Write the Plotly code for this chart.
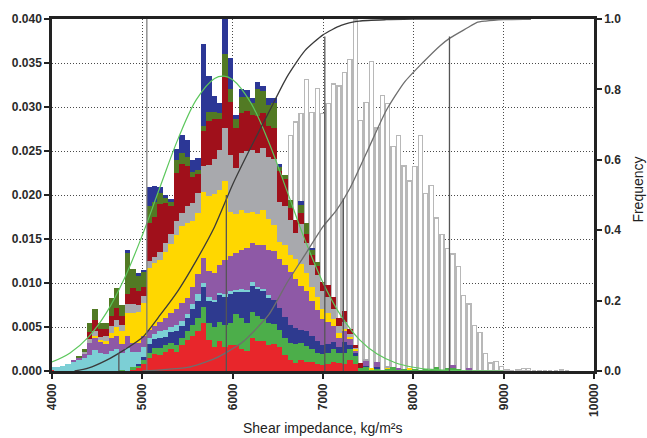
import numpy as np
import plotly.graph_objects as go

# ---------------- data ----------------
BIN_START = 3967      # left edge of first bin, kg/m2s
BIN_WIDTH = 60        # bin width, kg/m2s

# stacked relative frequencies per bin (units of 0.001), bottom layer first
red = [0.1,0,0,0,0,0,0,0,0,0, 0,0,0,0,0,0.2,0.3,0.8,1.5,1.9,
       1.8,2.2,2.5,2.2,3.0,3.5,4.0,4.5,5.5,3.5, 2.7,3.4,2.7,3.0,3.0,2.5,2.3,3.7,3.4,3.4,
       2.9,3.1,2.7,1.8,1.2,0.9,1.2,1.0,1.0,0.8, 0.7,0.8,1.0,0.9,0.8,1.3,0.8,0,0,0,
       0,0,0,0,0,0,0,0,0,0, 0,0,0,0,0,0,0,0,0]
green = [0,0,0,0,0,0,0,0,0,0, 0,0,0,0.1,0,0.2,0.3,0.4,0.6,0.7,
         0.8,0.7,0.7,0.8,0.8,1.0,1.2,1.5,1.8,2.0, 2.3,2.2,2.5,2.5,3.5,3.5,3.2,3.0,2.8,2.5,
         2.5,2.2,2.0,2.0,2.0,2.2,2.0,1.8,1.5,1.3, 1.2,1.3,1.5,1.2,1.2,1.2,0.9,0.3,0.5,0.2,
         0.2,0.1,0.3,0.4,0.2,0.2,0.2,0.2,0.1,0.2, 0.1,0.5,0.1,0.3,0.3,0.2,0,0,0]
blue = [0,0,0,0,0,0,0,0,0,0, 0,0,0,0,0,0,0.2,0.4,1.0,1.0,
        1.2,1.0,1.2,1.5,1.3,1.5,1.8,2.0,2.2,2.5, 2.8,3.0,3.2,3.3,2.5,3.0,3.5,3.0,3.2,3.3,
        3.0,2.8,2.5,2.3,2.0,1.8,1.5,1.8,1.5,1.3, 1.0,1.0,0.8,0.6,1.3,0.5,0.3,0,0.1,0,
        0.3,0,0,0,0,0,0,0,0,0, 0,0,0,0,0,0,0,0,0]
cyan = [0.4,0.5,0.6,0.8,1.1,1.3,1.5,1.8,2.4,2.1, 1.9,2.3,2.5,2.0,2.6,1.8,1.4,1.1,0.7,0.6,
        0.7,0.8,0.6,0.7,0.6,0.5,0.6,0.7,0.5,0.4, 0.3,0.3,0.3,0.3,0.2,0.3,0.2,0.4,0.1,0.1,
        0.2,0,0,0,0,0,0,0,0,0, 0,0,0,0,0,0,0,0,0,0,
        0,0,0,0,0,0,0,0,0,0, 0,0,0,0,0,0,0,0,0]
purple = [0,0,0,0,0.1,0.2,0.5,1.4,1.4,1.2, 1.2,1.4,1.5,1.0,1.4,1.0,1.0,1.3,0.9,0.9,
          1.1,1.3,1.6,1.8,2.0,1.8,2.0,2.3,2.8,3.0, 3.0,3.2,3.9,4.0,4.2,4.5,4.8,4.5,4.8,5.0,
          5.2,5.5,5.5,6.0,6.0,5.5,5.0,4.5,4.0,3.5, 3.0,2.5,1.8,1.0,1.2,0.6,0.3,0,0.6,0,
          0.5,0,0,0,0.1,0,0,0,0,0, 0,0,0,0,0.4,0,0,0.3,0]
yellow = [0,0,0,0,0,0,0,0,0.2,0.2, 0.3,0.6,1.0,1.4,2.6,3.4,3.5,3.7,7.0,7.2,
          7.0,7.5,7.8,8.5,8.8,8.5,7.5,7.0,7.5,8.5, 9.0,8.5,9.0,5.0,4.4,4.5,4.0,3.5,3.5,4.0,
          3.5,3.0,2.0,2.2,2.0,2.3,2.5,2.0,1.5,1.5, 1.2,1.0,0.8,0.6,0.3,0.3,0.2,0,0,0.1,
          0,0,0.1,0,0,0,0.1,0,0,0, 0,0,0,0,0,0,0,0,0]
grey = [0,0,0,0,0,0,0.2,0.4,0.5,0.4, 0.6,0.8,0.8,0.7,1.0,1.0,0.8,0.8,0.8,0.7,
        0.9,1.0,1.2,1.5,1.5,2.0,2.0,2.2,3.0,3.5, 4.0,4.5,6.0,6.5,5.3,6.5,7.0,7.0,7.0,7.0,
        7.0,7.5,4.5,4.5,4.0,3.0,4.5,3.5,2.5,2.5, 2.0,1.8,1.2,0.8,0.8,0.3,0.2,0,0.2,0,
        0,0,0.2,0,0,0,0,0,0,0, 0,0,0,0,0,0,0,0,0]
darkred = [0,0,0,0,0,0,0,0.8,1.3,0.9, 0.8,1.2,1.4,1.0,1.2,1.8,1.6,1.1,4.3,4.5,
           5.5,4.6,3.2,5.5,5.5,4.5,3.0,2.2,4.0,5.0, 4.5,3.5,5.8,6.0,4.5,4.5,4.5,4.0,4.2,4.0,
           3.5,3.5,3.5,3.0,1.3,1.5,1.2,1.0,1.2,1.0, 1.0,1.4,1.3,0.9,1.2,0.6,0.2,0.6,0,0,
           0,0,0,0,0,0,0,0,0,0, 0,0,0,0,0,0,0,0,0]
olive = [0,0,0,0,0,0.1,0.3,1.1,1.2,0.7, 0.7,2.0,2.2,1.3,4.6,2.2,1.8,1.6,2.0,1.7,
         1.2,0.6,0.4,1.5,1.3,1.0,0.5,0.4,0.5,1.0, 0.8,0.7,2.6,1.5,1.0,1.8,1.6,1.4,3.0,2.5,
         2.4,2.8,0.5,0.5,0.9,0,1.0,1.2,0.6,0.5, 0,0,0,0,0,0,0,0,0,0,
         0,0,0,0,0,0,0,0,0,0, 0,0,0,0,0,0,0,0,0]
navy = [0,0,0,0,0,0,0,0,0,0, 0,0,0,0,0.3,0,0.2,0.3,2.1,1.8,
        0.7,0.3,0.3,1.2,2.0,2.0,1.4,1.4,9.4,4.1, 1.9,1.2,4.7,3.5,0.5,1.0,0.8,0.5,0.8,0.6,
        0.8,0.6,0.3,0,0,0,0.4,0,0.2,0, 0,0,0,0,0,0,0,0,0,0,
        0,0,0,0,0,0,0,0,0,0, 0,0,0,0,0,0,0,0,0]

# hollow (outlined) histogram, units of 0.001, same bins
hollow = [0,0,0,0,0,0,0,0,0,0, 0,0,0,0.3,0.3,0.5,0.8,1.2,1.5,2.0,
          2.5,3.0,3.0,3.5,4.0,4.5,5.0,5.5,6.0,7.0, 8.0,9.0,11.0,12.0,12.0,13.0,14.0,14.5,14.0,15.5,
          15.0,17.0,18.5,21.0,26.8,28.3,29.3,33.1,29.4,32.1, 29.3,30.4,32.6,32.4,33.9,35.4,39.9,28.5,30.5,35.2,
          27.6,31.3,30.4,25.5,26.8,23.3,21.6,23.2,26.8,20.2, 21.1,17.4,15.5,13.9,13.3,11.9,8.6,7.6,5.2,4.4,
          2.0,0.9,1.1,0.5,0.1,0,0.2,0.3,0.3,0, 0,0,0,0,0.1,0]

# fitted normal curve (left axis)
normal_x = [4000,4200,4400,4600,4800,5000,5200,5400,5600,5800,5900,6000,6200,6400,6600,
            6800,7000,7200,7400,7600,7800,8000,8200,8400,8700,9000]
normal_y = [0.00102,0.00205,0.00382,0.00658,0.01048,0.01543,0.02103,0.02649,0.03086,0.03323,
            0.0335,0.0331,0.0305,0.0260,0.0205,0.0149,0.01004,0.00626,0.0036,0.00192,
            0.00094,0.00043,0.00018,0.00007,0.00001,0.0]

# cumulative curves (right axis)
cdf1_x = [4250,4400,4600,4800,5000,5200,5400,5600,5800,6000,6200,6400,6600,6800,7000,
          7200,7400,7700,8000,8200,9300]
cdf1_y = [0.0,0.008,0.03,0.06,0.095,0.16,0.23,0.315,0.41,0.53,0.635,0.735,0.835,0.91,0.955,
          0.982,0.994,0.998,0.9995,1.0,1.0]
cdf2_x = [5000,5200,5500,5800,6100,6400,6600,6800,7000,7150,7300,7500,7700,7900,8100,
          8300,8400,8600,8700,8800,9000,9300]
cdf2_y = [0.0,0.003,0.01,0.035,0.08,0.16,0.25,0.33,0.41,0.457,0.52,0.63,0.74,0.82,0.875,
          0.925,0.945,0.975,0.99,0.994,0.998,1.0]

# percentile markers (value, cumulative level)
pct_x = [4740, 5930, 7020, 7225, 8400]
pct_level = [0.05, 0.50, 0.95, 0.49, 0.95]
ref_x = 5050

x_ticks = [4000,5000,6000,7000,8000,9000,10000]
y_ticks = [0.000,0.005,0.010,0.015,0.020,0.025,0.030,0.035,0.040]
y3_ticks = [0.0,0.2,0.4,0.6,0.8,1.0]

layers = [("red", "#E8262B", red), ("green", "#4CAE4A", green), ("blue", "#2E3A8F", blue),
          ("cyan", "#7CCFD5", cyan), ("purple", "#8E59A6", purple), ("yellow", "#FFD700", yellow),
          ("grey", "#A8A9AD", grey), ("darkred", "#A0101B", darkred), ("olive", "#527A24", olive),
          ("navy", "#2C3796", navy)]

# ---------------- figure ----------------
centers = BIN_START + BIN_WIDTH / 2 + BIN_WIDTH * np.arange(len(red))
centers_h = BIN_START + BIN_WIDTH / 2 + BIN_WIDTH * np.arange(len(hollow))

fig = go.Figure()
fig.add_trace(go.Bar(x=centers_h, y=np.array(hollow) * 1e-3, width=BIN_WIDTH * 0.76,
                     marker=dict(color="white", line=dict(color="#B8B8B8", width=1.3)),
                     xaxis="x", yaxis="y", showlegend=False, hoverinfo="skip"))
for name, color, vals in layers:
    fig.add_trace(go.Bar(x=centers, y=np.array(vals) * 1e-3, width=BIN_WIDTH, name=name,
                         marker=dict(color=color, line=dict(width=0)),
                         xaxis="x", yaxis="y2", showlegend=False))
fig.add_trace(go.Scatter(x=normal_x, y=normal_y, mode="lines", line=dict(color="#5CC75C", width=1.2, shape="spline"),
                         xaxis="x", yaxis="y2", showlegend=False))
fig.add_trace(go.Scatter(x=cdf1_x, y=cdf1_y, mode="lines", line=dict(color="#3A3A3A", width=1.3, shape="spline", smoothing=0.6),
                         xaxis="x", yaxis="y3", showlegend=False))
fig.add_trace(go.Scatter(x=cdf2_x, y=cdf2_y, mode="lines", line=dict(color="#6E6E6E", width=1.3, shape="spline", smoothing=0.6),
                         xaxis="x", yaxis="y3", showlegend=False))
for px, lv in zip(pct_x, pct_level):
    fig.add_trace(go.Scatter(x=[px, px], y=[0, lv], mode="lines", line=dict(color="#555555", width=1.3),
                             xaxis="x", yaxis="y3", showlegend=False))
fig.add_trace(go.Scatter(x=[ref_x, ref_x], y=[0, 1], mode="lines", line=dict(color="#777777", width=1.2),
                         xaxis="x", yaxis="y3", showlegend=False))

axis_col = "#222222"
tick_font = dict(family="Liberation Sans, Arial", size=12, color="#2a2a2a", weight="bold")
grid = dict(showgrid=True, gridcolor="#4a4a4a", gridwidth=1, griddash="1px,2px")
fig.update_layout(
    width=647, height=438, margin=dict(l=52, r=53, t=12, b=67),
    paper_bgcolor="white", plot_bgcolor="white", barmode="stack",
    font=dict(family="Liberation Sans, Arial", size=12, color="#333333"),
    xaxis=dict(range=[4000, 10000], tickvals=x_ticks, ticktext=[str(v) for v in x_ticks], tickangle=-90,
               ticks="outside", ticklen=5, tickwidth=2, tickcolor=axis_col,
               showline=True, linewidth=2.5, linecolor=axis_col, mirror=True, zeroline=False,
               tickfont=tick_font, **grid),
    yaxis=dict(range=[0, 0.04], tickvals=y_ticks, tickformat=".3f",
               ticks="outside", ticklen=5, tickwidth=2, tickcolor=axis_col,
               showline=True, linewidth=2.5, linecolor=axis_col, zeroline=False,
               tickfont=tick_font, **grid),
    yaxis2=dict(range=[0, 0.04], overlaying="y", visible=False),
    yaxis3=dict(range=[0, 1], overlaying="y", side="right", tickvals=y3_ticks, tickformat=".1f",
                ticks="outside", ticklen=5, tickwidth=2, tickcolor=axis_col,
                showline=True, linewidth=2.5, linecolor=axis_col, showgrid=False, zeroline=False,
                tickfont=tick_font),
    annotations=[
        dict(text="Shear impedance, kg/m²s", xref="paper", yref="paper", x=0.5, y=-0.162,
             xanchor="center", yanchor="middle", showarrow=False, font=dict(size=14, color="#222222")),
        dict(text="Frequency", xref="paper", yref="paper", x=1.081, y=0.515, textangle=-90,
             xanchor="center", yanchor="middle", showarrow=False, font=dict(size=14, color="#222222")),
    ],
)

fig.write_html("out.html")
